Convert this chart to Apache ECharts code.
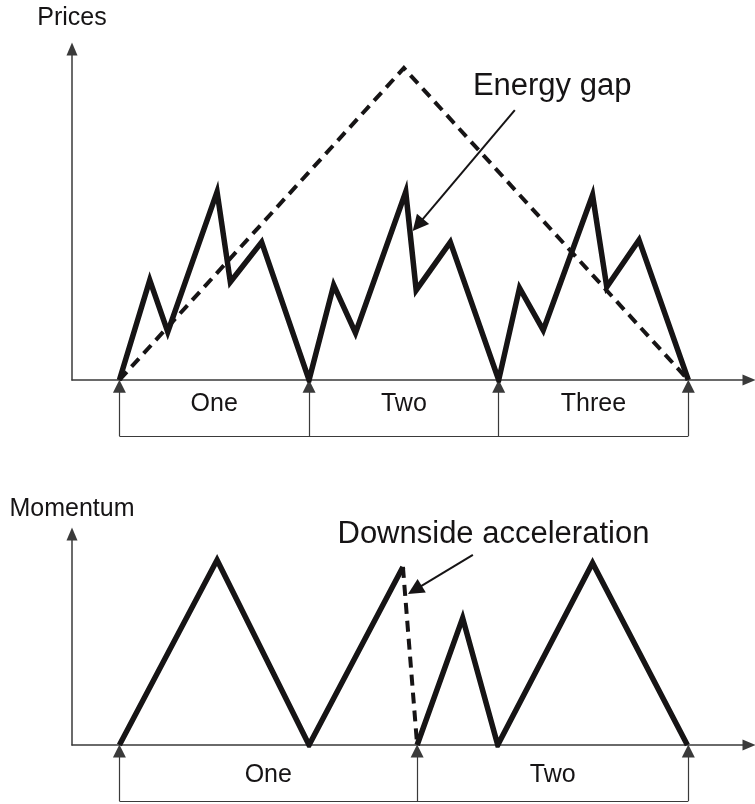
<!DOCTYPE html>
<html>
<head>
<meta charset="utf-8">
<style>html,body{margin:0;padding:0;background:#fff;}#c{width:755px;height:804px;}</style>
<script src="https://cdn.jsdelivr.net/npm/echarts@6/dist/echarts.min.js"></script>
</head>
<body>
<div id="c"></div>
<script>
// ---- Data (x in time units, y in price / momentum units) ----
const pricePath = [[0,0],[1.6,32],[2.55,15.4],[5.15,60.3],[5.85,31.4],[7.5,44.2],[10,0],[11.3,30.4],[12.45,15.1],[15.1,60.3],[15.65,28.8],[17.45,44.2],[20,0],[21.1,29.5],[22.35,16],[24.95,59.3],[25.7,29.8],[27.4,44.9],[30,0]];
const trendPath = [[0,0],[15,100],[30,0]];
const priceCycleBounds = [0,10,20,30];
const priceCycleLabels = ['One','Two','Three'];
const energyGapArrow = [[20.85,86.5],[15.74,49.7]];
const energyGapText = [18.64,94];

const momentumPathA = [[0,0],[5.15,100],[10,0],[14.95,96.2]];
const accelPath = [[14.95,96.2],[15.7,0]];
const momentumPathB = [[15.7,0],[18.1,68.6],[19.95,0],[24.95,98.4],[29.95,0]];
const momentumCycleBounds = [0,15.7,30];
const momentumCycleLabels = ['One','Two'];
const accelArrow = [[18.64,102.7],[15.58,83.8]];
const accelText = [11.5,113.5];

const topBracketDepth = -18, topLabelY = -7.7;
const botBracketDepth = -30.3, botLabelY = -16.2;

const INK = '#161415', AXIS = '#3a3a3a', FONT = '"Liberation Sans", Arial, sans-serif';

function bracketLines(bounds, depth, gi, tipOffset){
  const data = bounds.map(x => ({coords: [[x, depth],[x, tipOffset]], symbol:['none','triangle'], symbolSize:[11,13]}));
  data.push({coords: [[bounds[0], depth],[bounds[bounds.length-1], depth]], symbol:['none','none']});
  return {type:'lines', coordinateSystem:'cartesian2d', xAxisIndex:gi, yAxisIndex:gi, clip:false, silent:true,
    lineStyle:{color:AXIS, width:1.2, opacity:1, curveness:0}, symbol:['none','triangle'], symbolSize:[11,13],
    data};
}
function labelScatter(bounds, labels, y, gi){
  return {type:'scatter', xAxisIndex:gi, yAxisIndex:gi, clip:false, silent:true, symbolSize:0,
    itemStyle:{opacity:1},
    data: labels.map((t,i)=>({name:t, value:[(bounds[i]+bounds[i+1])/2, y]})),
    label:{show:true, position:'inside', formatter:'{b}', color:INK, fontSize:25, fontFamily:FONT}};
}
function arrowLine(coords, gi){
  return {type:'lines', coordinateSystem:'cartesian2d', xAxisIndex:gi, yAxisIndex:gi, clip:false, silent:true,
    symbol:['none','triangle'], symbolSize:[13,16], lineStyle:{color:INK, width:2, opacity:1},
    data:[{coords}]};
}
function textPoint(pos, text, gi){
  return {type:'scatter', xAxisIndex:gi, yAxisIndex:gi, clip:false, silent:true, symbolSize:0,
    itemStyle:{opacity:1},
    data:[{name:text, value:pos}],
    label:{show:true, position:'inside', align:'left', verticalAlign:'middle', formatter:'{b}', color:INK, fontSize:31, fontFamily:FONT}};
}
const solid = {color:INK, width:5.5, join:'miter', miterLimit:20, cap:'butt'};
const dashed = {color:INK, width:4, type:[11,7], join:'miter'};

const axisLine = {show:true, onZero:false, symbol:['none','triangle'], symbolSize:[11,13], lineStyle:{color:AXIS, width:1.5}};
function xAx(gi){return {type:'value', gridIndex:gi, min:-2.5, max:33.2, axisLine:axisLine, axisTick:{show:false}, axisLabel:{show:false}, splitLine:{show:false}};}
function yAx(gi, max, name, gap){return {type:'value', gridIndex:gi, min:0, max:max, name:name, nameLocation:'end', nameGap:gap,
  nameTextStyle:{color:INK, fontSize:25, fontFamily:FONT, align:'center'},
  axisLine:axisLine, axisTick:{show:false}, axisLabel:{show:false}, splitLine:{show:false}};}

const chart = echarts.init(document.getElementById('c'), null, {renderer:'canvas'});
chart.setOption({
  animation:false,
  backgroundColor:'#ffffff',
  grid:[{left:72, right:6, top:49, bottom:424},{left:72, right:6, top:534, bottom:59}],
  xAxis:[xAx(0), xAx(1)],
  yAxis:[yAx(0,106.1,'Prices',18), yAx(1,114,'Momentum',12)],
  series:[
    {type:'line', xAxisIndex:0, yAxisIndex:0, data:trendPath, showSymbol:false, silent:true, lineStyle:dashed},
    {type:'line', xAxisIndex:0, yAxisIndex:0, data:pricePath, showSymbol:false, silent:true, lineStyle:solid},
    bracketLines(priceCycleBounds, topBracketDepth, 0, -2),
    labelScatter(priceCycleBounds, priceCycleLabels, topLabelY, 0),
    arrowLine(energyGapArrow, 0),
    textPoint(energyGapText, 'Energy gap', 0),

    {type:'line', xAxisIndex:1, yAxisIndex:1, data:momentumPathA, showSymbol:false, silent:true, lineStyle:solid},
    {type:'line', xAxisIndex:1, yAxisIndex:1, data:accelPath, showSymbol:false, silent:true, lineStyle:dashed},
    {type:'line', xAxisIndex:1, yAxisIndex:1, data:momentumPathB, showSymbol:false, silent:true, lineStyle:solid},
    bracketLines(momentumCycleBounds, botBracketDepth, 1, -3.2),
    labelScatter(momentumCycleBounds, momentumCycleLabels, botLabelY, 1),
    arrowLine(accelArrow, 1),
    textPoint(accelText, 'Downside acceleration', 1)
  ]
});
</script>
</body>
</html>
